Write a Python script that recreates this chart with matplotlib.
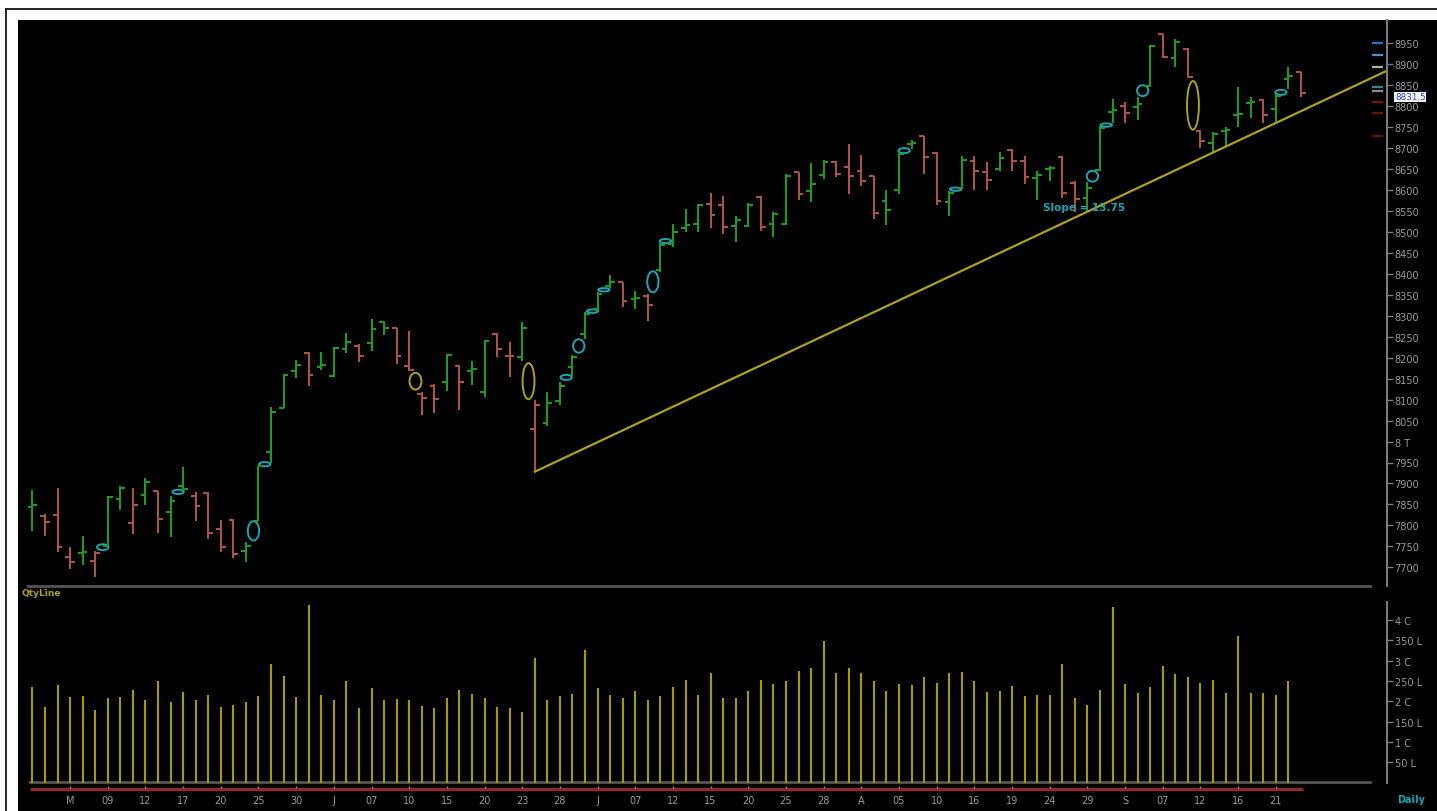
import matplotlib
matplotlib.use('Agg')
import matplotlib.pyplot as plt
from matplotlib.patches import Ellipse
from matplotlib.lines import Line2D
from matplotlib.transforms import blended_transform_factory
import numpy as np

# ---------------- data ----------------
opens = [7845, 7823, 7825, 7725, 7734, 7716, 7752, 7863, 7805, 7872,
         7881, 7831, 7895, 7871, 7877, 7791, 7814, 7740, 7810, 7974,
         8080, 8169, 8211, 8179, 8156, 8221, 8229, 8234, 8286, 8271,
         8181, 8113, 8133, 8141, 8181, 8169, 8117, 8256, 8205, 8201,
         8030, 8044, 8097, 8177, 8257, 8316, 8372, 8380, 8340, 8348,
         8410, 8472, 8510, 8519, 8567, 8564, 8513, 8515, 8583, 8519,
         8519, 8642, 8598, 8636, 8668, 8654, 8646, 8633, 8574, 8601,
         8710, 8728, 8688, 8571, 8606, 8670, 8642, 8650, 8696, 8670,
         8629, 8649, 8679, 8616, 8582, 8648, 8785, 8801, 8797, 8849,
         8971, 8916, 8936, 8740, 8711, 8740, 8779, 8807, 8815, 8793,
         8865, 8881]
highs = [7885, 7827, 7888, 7748, 7775, 7738, 7871, 7895, 7890, 7913,
         7883, 7871, 7940, 7879, 7879, 7813, 7815, 7760, 7942, 8082,
         8161, 8195, 8213, 8213, 8225, 8259, 8233, 8292, 8288, 8272,
         8264, 8117, 8137, 8209, 8183, 8193, 8243, 8258, 8237, 8284,
         8100, 8117, 8143, 8206, 8308, 8356, 8397, 8381, 8360, 8352,
         8475, 8520, 8555, 8567, 8593, 8585, 8537, 8568, 8585, 8548,
         8638, 8644, 8664, 8672, 8670, 8710, 8684, 8634, 8601, 8690,
         8720, 8730, 8690, 8598, 8682, 8680, 8666, 8690, 8698, 8680,
         8646, 8658, 8682, 8621, 8620, 8753, 8817, 8809, 8821, 8947,
         8972, 8960, 8939, 8743, 8738, 8750, 8845, 8823, 8817, 8829,
         8893, 8882]
lows = [7786, 7775, 7737, 7697, 7706, 7678, 7752, 7837, 7779, 7849,
        7783, 7773, 7881, 7811, 7767, 7736, 7721, 7713, 7810, 7948,
        8079, 8151, 8133, 8171, 8153, 8211, 8189, 8217, 8253, 8185,
        8169, 8063, 8068, 8121, 8075, 8135, 8107, 8201, 8153, 8193,
        7928, 8038, 8087, 8157, 8245, 8312, 8366, 8320, 8316, 8288,
        8405, 8465, 8500, 8499, 8509, 8495, 8477, 8511, 8503, 8489,
        8517, 8577, 8572, 8626, 8630, 8590, 8610, 8531, 8517, 8590,
        8699, 8638, 8564, 8539, 8602, 8601, 8601, 8646, 8646, 8614,
        8576, 8622, 8582, 8547, 8547, 8646, 8759, 8759, 8767, 8846,
        8914, 8894, 8867, 8700, 8690, 8702, 8751, 8772, 8759, 8757,
        8841, 8821]
closes = [7849, 7809, 7748, 7712, 7736, 7734, 7868, 7888, 7849, 7903,
          7815, 7859, 7887, 7847, 7783, 7748, 7732, 7750, 7941, 8070,
          8159, 8183, 8159, 8183, 8222, 8238, 8203, 8268, 8272, 8203,
          8170, 8105, 8101, 8206, 8143, 8173, 8241, 8221, 8203, 8270,
          8088, 8093, 8133, 8202, 8304, 8352, 8380, 8336, 8343, 8326,
          8470, 8500, 8516, 8565, 8540, 8511, 8529, 8564, 8511, 8543,
          8634, 8590, 8614, 8668, 8638, 8634, 8622, 8545, 8553, 8686,
          8713, 8678, 8575, 8593, 8672, 8646, 8624, 8676, 8670, 8630,
          8637, 8652, 8592, 8579, 8606, 8749, 8791, 8783, 8805, 8944,
          8918, 8952, 8869, 8718, 8734, 8743, 8781, 8809, 8780, 8825,
          8873, 8831.5]

# volume in lakhs (last session has no bar)
volumes = [236, 185, 240, 211, 213, 178, 208, 211, 227, 202,
           249, 198, 222, 202, 216, 187, 190, 198, 213, 292,
           261, 211, 438, 216, 203, 249, 184, 232, 203, 206,
           203, 188, 183, 207, 227, 219, 207, 185, 184, 173,
           307, 203, 213, 218, 325, 232, 216, 208, 225, 202,
           213, 234, 253, 216, 269, 207, 208, 225, 252, 243,
           251, 275, 282, 348, 270, 282, 270, 251, 225, 242,
           240, 259, 244, 269, 272, 249, 222, 225, 237, 213,
           216, 216, 292, 207, 192, 227, 433, 242, 220, 234,
           287, 267, 260, 244, 253, 220, 361, 220, 220, 216,
           249]

date_tick_idx = list(range(3, 100, 3))
date_labels = ['M', '09', '12', '17', '20', '25', '30', 'J', '07', '10', '15',
               '20', '23', '28', 'J', '07', '12', '15', '20', '25', '28', 'A',
               '05', '10', '16', '19', '24', '29', 'S', '07', '12', '16', '21']

price_ticks = [8950, 8900, 8850, 8800, 8750, 8700, 8650, 8600, 8550, 8500,
               8450, 8400, 8350, 8300, 8250, 8200, 8150, 8100, 8050, 8000,
               7950, 7900, 7850, 7800, 7750, 7700]
price_tick_labels = ['8950', '8900', '8850', '8800', '8750', '8700', '8650',
                     '8600', '8550', '8500', '8450', '8400', '8350', '8300',
                     '8250', '8200', '8150', '8100', '8050', '8 T', '7950',
                     '7900', '7850', '7800', '7750', '7700']
vol_ticks = [400, 350, 300, 250, 200, 150, 100, 50]
vol_tick_labels = ['4 C', '350 L', '3 C', '250 L', '2 C', '150 L', '1 C', '50 L']

# signal ovals: (bar position, price low, price high)
cyan_ovals = [(5.6, 7741, 7755), (11.6, 7875, 7885), (17.6, 7764, 7810),
              (18.5, 7941, 7951), (42.5, 8147, 8159), (43.5, 8212, 8244),
              (44.6, 8307, 8315), (45.5, 8358, 8366), (49.4, 8356, 8406),
              (50.4, 8473, 8483), (69.4, 8688, 8700), (73.5, 8598, 8606),
              (84.4, 8620, 8646), (85.5, 8751, 8759), (88.4, 8824, 8850),
              (99.4, 8827, 8839)]
yellow_ovals = [(30.5, 8124, 8164), (39.5, 8101, 8187), (92.4, 8744, 8860)]

trend_start_idx = 40
trend_start_price = 7928
trend_slope = 14.1          # points per bar
slope_label = 'Slope = 13.75'
last_price_label = '8831.5'

side_mark_prices = [8951, 8922, 8893, 8846, 8836, 8810, 8783, 8729]
side_mark_colors = ['#2f6fc0', '#4a90d0', '#9fb89f', '#2a8c8c', '#8a8a8a',
                    '#7a1414', '#6a1414', '#5a1414']

# ---------------- layout helpers ----------------
W, H = 1437, 812
fig = plt.figure(figsize=(W / 100, H / 100), dpi=100, facecolor='white')


def axes_px(x0, y0, x1, y1, **kw):
    return fig.add_axes([x0 / W, 1 - y1 / H, (x1 - x0) / W, (y1 - y0) / H], **kw)


def fig_line(xs, ys, **kw):
    fig.add_artist(Line2D([x / W for x in xs], [1 - y / H for y in ys],
                          transform=fig.transFigure, **kw))


GREEN = '#1f9f1f'
RED = '#b4534c'
CYAN = '#1ba6b4'
YEL = '#aba21a'
VOLC = '#a39b00'
GRAY = '#7a7a7a'
LBL = '#9a9a9a'

bg = axes_px(18, 21, W, H)
bg.set_facecolor('black')
bg.set_xticks([]); bg.set_yticks([])
for s in bg.spines.values():
    s.set_visible(False)
bg.set_zorder(0)

# outer frame
fig_line([6, 6], [10, H], color='black', lw=1.2)
fig_line([6, W], [10, 10], color='black', lw=1.2)

n = len(closes)
x = np.arange(n)
XL, XR = (18 - 32.4) / 12.56, (1387 - 32.4) / 12.56

# ---------------- price panel ----------------
ax = axes_px(18, 21, 1387, 587)
ax.set_facecolor('none')
ax.set_zorder(2)
ax.set_xlim(XL, XR)
ax.set_ylim(8950 - (587 - 44.3) / 0.4192, 8950 + (44.3 - 21) / 0.4192)
for k in ['left', 'top', 'bottom']:
    ax.spines[k].set_visible(False)
ax.spines['right'].set_color(GRAY)
ax.spines['right'].set_linewidth(1.5)
ax.set_xticks([])
ax.yaxis.tick_right()
ax.set_yticks(price_ticks, price_tick_labels)
ax.tick_params(axis='y', colors=GRAY, labelcolor=LBL, labelsize=7, length=4,
               width=1, pad=1.5)

cl = np.array(closes, dtype=float)
col = [GREEN if i == 0 or cl[i] >= cl[i - 1] else RED for i in range(n)]
ax.vlines(x, lows, highs, colors=col, lw=1.4)
ax.hlines(opens, x - 0.38, x, colors=col, lw=1.4)
ax.hlines(closes, x, x + 0.38, colors=col, lw=1.4)

for xc, lo, hi in cyan_ovals:
    ax.add_patch(Ellipse((xc, (lo + hi) / 2), 0.9, hi - lo, fill=False,
                         edgecolor=CYAN, lw=1.4))
for xc, lo, hi in yellow_ovals:
    ax.add_patch(Ellipse((xc, (lo + hi) / 2), 0.95, hi - lo, fill=False,
                         edgecolor=YEL, lw=1.4))

tx = np.array([trend_start_idx, XR + 1])
ax.plot(tx, trend_start_price + trend_slope * (tx - trend_start_idx),
        color=YEL, lw=1.6)
ax.text(80.46, 8559, slope_label, color=CYAN, fontsize=7.5, fontweight='bold',
        ha='left', va='center')

ax.hlines(side_mark_prices, 106.66, 107.53, colors=side_mark_colors, lw=1.6)

bt = blended_transform_factory(ax.transAxes, ax.transData)
ax.annotate(last_price_label, xy=(1.0058, closes[-1]), xycoords=bt,
            xytext=(0, -4), textcoords='offset pixels', color='#2a45d8',
            fontsize=6.3, va='center', ha='left', annotation_clip=False,
            zorder=5,
            bbox=dict(boxstyle='square,pad=0.1', facecolor='#f2f2ff',
                      edgecolor='none'))

# separators
fig_line([28, 1370], [587, 587], color='#555555', lw=2)
fig.text(22 / W, 1 - 594 / H, 'QtyLine', color=YEL, fontsize=6.5,
         fontweight='bold', va='center', ha='left')

# ---------------- volume panel ----------------
av = axes_px(18, 603, 1387, 783.6)
av.set_facecolor('none')
av.set_zorder(2)
av.set_xlim(XL, XR)
av.set_ylim(0, (783.6 - 603) / 0.4066)
for k in ['left', 'top', 'bottom']:
    av.spines[k].set_visible(False)
av.spines['right'].set_color(GRAY)
av.spines['right'].set_linewidth(1.5)
av.set_xticks([])
av.yaxis.tick_right()
av.set_yticks(vol_ticks, vol_tick_labels)
av.tick_params(axis='y', colors=GRAY, labelcolor=LBL, labelsize=7, length=4,
               width=1, pad=1.5)
av.vlines(x[:len(volumes)], 0, volumes, colors=VOLC, lw=1.5)
fig_line([30, 1370], [783, 783], color='#555555', lw=2)

# ---------------- date strip ----------------
ad = axes_px(18, 784, 1387, 812)
ad.set_facecolor('none')
ad.set_zorder(2)
ad.set_xlim(XL, XR)
ad.set_ylim(812, 784)
ad.axis('off')
ad.hlines(789.8, -0.2, n - 0.8, color='#8b2a2a', lw=2.4)
ad.vlines(date_tick_idx, 786.8, 789.5, color='#d86a6a', lw=1)
for i, lab in zip(date_tick_idx, date_labels):
    ad.text(i, 801, lab, ha='center', va='center', color=LBL, fontsize=7)

fig.text(1397 / W, 1 - 800 / H, 'Daily', color=CYAN, fontsize=7,
         fontweight='bold', va='center', ha='left')

fig.savefig('out.png', dpi=100, facecolor='white')
